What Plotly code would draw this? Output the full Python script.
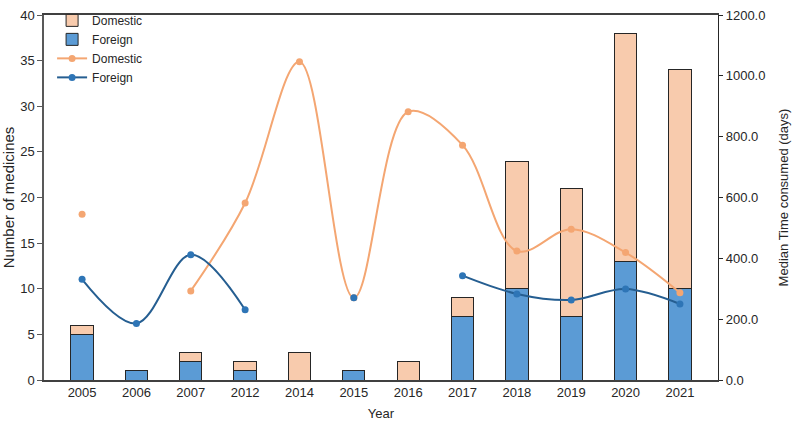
import plotly.graph_objects as go

years = ["2005", "2006", "2007", "2012", "2014", "2015", "2016", "2017", "2018", "2019", "2020", "2021"]
foreign_count = [5, 1, 2, 1, None, 1, None, 7, 10, 7, 13, 10]
domestic_count = [1, None, 1, 1, 3, None, 2, 2, 14, 14, 25, 24]
domestic_days = [545, None, 293, 582, 1046, 270, 882, 772, 424, 496, 419, 287]
foreign_days = [331, 186, 412, 231, None, 270, None, 343, 283, 263, 299, 250]

FONT = "Arial, Liberation Sans, sans-serif"
fig = go.Figure()
fig.add_trace(go.Bar(x=years, y=foreign_count, name="Foreign", marker=dict(color="#5B9BD5", line=dict(color="#262626", width=1)), legendrank=2))
fig.add_trace(go.Bar(x=years, y=domestic_count, name="Domestic", marker=dict(color="#F8CBAD", line=dict(color="#262626", width=1)), legendrank=1))
fig.add_trace(go.Scatter(x=years, y=domestic_days, name="Domestic", yaxis="y2", mode="lines+markers",
                         line=dict(color="#F4A672", width=2, shape="spline", smoothing=1), marker=dict(color="#F4A672", size=7),
                         connectgaps=False, legendrank=3))
fig.add_trace(go.Scatter(x=years, y=foreign_days, name="Foreign", yaxis="y2", mode="lines+markers",
                         line=dict(color="#255E91", width=2, shape="spline", smoothing=1), marker=dict(color="#2E75B6", size=7),
                         connectgaps=False, legendrank=4))

fig.update_layout(
    width=794, height=421,
    margin=dict(l=44, r=76, t=6, b=41),
    paper_bgcolor="white", plot_bgcolor="white",
    barmode="stack", bargap=0.59,
    font=dict(family=FONT, size=12, color="#262626"),
    showlegend=True,
    legend=dict(x=0.012, y=1.025, xanchor="left", yanchor="top", bgcolor="rgba(0,0,0,0)", traceorder="normal",
                font=dict(size=12), tracegroupgap=0, itemwidth=30),
    xaxis=dict(type="category", showline=True, linecolor="#404040", linewidth=1.5, mirror=True, automargin=False,
               ticks="", title=dict(text="Year", font=dict(size=13), standoff=14), tickfont=dict(size=13)),
    yaxis=dict(range=[0, 40], dtick=5, showline=True, linecolor="#595959", linewidth=1.5, ticks="outside",
               ticklen=5, tickcolor="#595959", showgrid=False, zeroline=False, automargin=False,
               title=dict(text="Number of medicines", font=dict(size=15), standoff=4), tickfont=dict(size=13)),
    yaxis2=dict(range=[0, 1200], dtick=200, overlaying="y", side="right", showline=True, linecolor="#262626",
                linewidth=1.2, ticks="outside", ticklen=4, tickcolor="#262626", showgrid=False, zeroline=False,
                automargin=False,
                tickformat=".1f", title=dict(text="Median Time consumed (days)", font=dict(size=13), standoff=14),
                tickfont=dict(size=13)),
)
fig.write_html("out.html")
